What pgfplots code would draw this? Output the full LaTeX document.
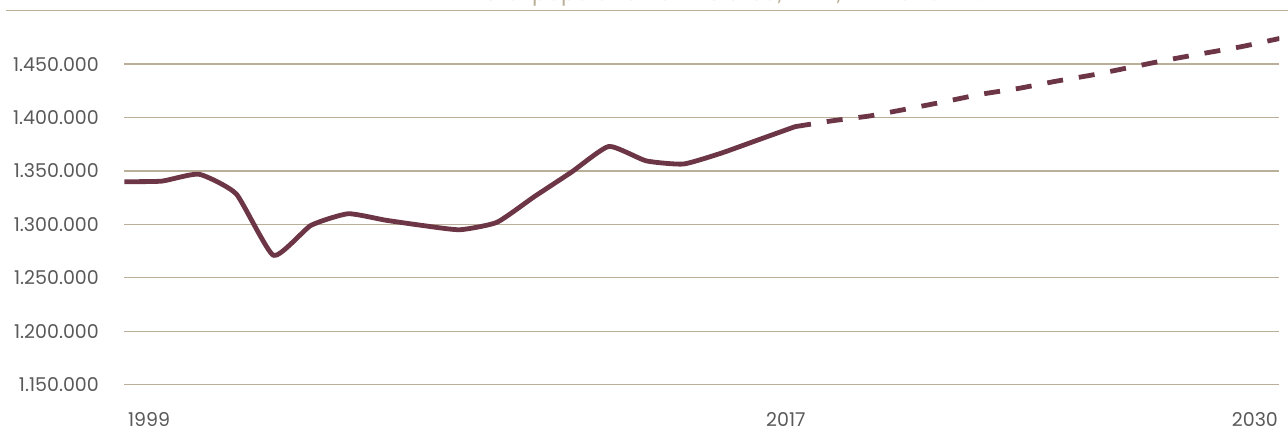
\documentclass[border=0pt]{standalone}
\usepackage{fontspec}
\setmainfont{Poppins}
\usepackage{pgfplots}
\usepackage{pgfplotstable}
\pgfplotsset{compat=1.18}

\definecolor{linec}{RGB}{108,54,70}
\definecolor{gridc}{RGB}{186,175,152}
\definecolor{labelc}{RGB}{89,89,89}

% observed population
\pgfplotstableread{
year pop
1999 1340000
2000 1340500
2001 1347000
2002 1328500
2003 1271000
2004 1299000
2005 1310000
2006 1304000
2007 1299000
2008 1295000
2009 1302000
2010 1326000
2011 1349000
2012 1373000
2013 1359500
2014 1356500
2015 1366500
2016 1379000
2017 1391500
}\actual

% projection
\pgfplotstableread{
year pop
2017 1391500
2018 1397000
2019 1401500
2020 1408000
2021 1414800
2022 1421900
2023 1427300
2024 1434000
2025 1440000
2026 1447000
2027 1454000
2028 1460300
2029 1466500
2030 1474000
}\forecast

\begin{document}
\begin{tikzpicture}
\begin{axis}[
  scale only axis,
  width=1155pt, height=374pt,
  at={(0pt,0pt)}, anchor=south west,
  xmin=1999, xmax=2030,
  ymin=1150000, ymax=1500000,
  axis line style={draw=none},
  tick style={draw=none},
  major tick length=0pt,
  ytick={1150000,1200000,1250000,1300000,1350000,1400000,1450000},
  ymajorgrids,
  grid style={gridc, line width=1.3pt},
  xtick={1999.66,2016.75,2029.34},
  xticklabels={1999,2017,2030},
  scaled y ticks=false,
  /pgf/number format/assume math mode=true,
  yticklabel style={/pgf/number format/.cd, fixed, precision=0, 1000 sep={.},
    /tikz/.cd, font=\fontsize{19}{19}\selectfont, text=labelc,
    anchor=east, inner sep=0pt, xshift=-25.5pt},
  xticklabel style={font=\fontsize{19}{19}\selectfont, text=labelc,
    anchor=north, inner sep=0pt, yshift=-28pt},
]
\addplot[linec, line width=4.8pt, smooth, tension=0.3, line cap=round, line join=round]
  table[x=year, y=pop]{\actual};
\addplot[linec, line width=4.8pt, smooth, tension=0.3, dash pattern=on 16pt off 16pt]
  table[x=year, y=pop]{\forecast};
\end{axis}

% title (cut off at the top of the picture) and its rule
\node[anchor=base west, inner sep=0pt, text=gridc, font=\fontsize{22}{22}\selectfont]
  at (407.5pt,384.2pt) {\llap{Total\ }population of the area, 1999, 2017 and 2030};
\draw[gridc, line width=1.3pt] (-118pt,374pt) -- (1163.5pt,374pt);

\pgfresetboundingbox
\useasboundingbox (-124.5pt,-47.3pt) rectangle (1163.5pt,384.7pt);
\end{tikzpicture}
\end{document}
